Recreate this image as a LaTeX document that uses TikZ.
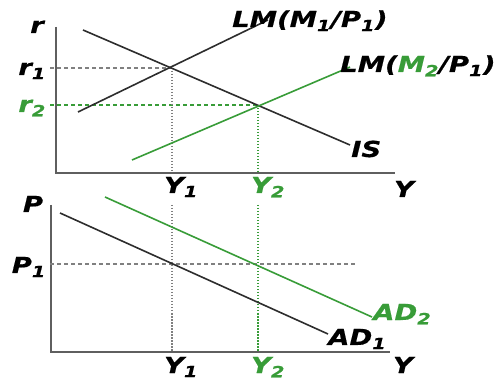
\documentclass[tikz,border=0pt]{standalone}
\usepackage{fontspec}
\newfontfamily\econfont{DejaVu Sans}[FakeStretch=1.25, BoldItalicFeatures={FakeBold=0.6}]
\definecolor{econgreen}{RGB}{56,156,56}
\definecolor{curvegray}{RGB}{45,45,45}
\definecolor{axisgray}{RGB}{95,95,95}

\begin{document}
\begin{tikzpicture}[
x=1pt, y=1pt,
every node/.style={font=\econfont\bfseries\itshape\fontsize{22}{24}\selectfont, inner sep=0pt},
axis/.style={draw=axisgray, line width=1.8pt},
curve/.style={draw=curvegray, line width=1.6pt},
shifted/.style={draw=econgreen, line width=1.6pt},
guide/.style={draw=gray, dash pattern=on 4pt off 3pt, line width=1.1pt},
drop/.style={draw=gray, dash pattern=on 1.5pt off 1.5pt, line width=1.3pt}
]
\useasboundingbox (0,0) rectangle (498,383);

% IS-LM panel
\coordinate (O1) at (56,210);
\coordinate (E1) at (172,315);
\coordinate (E2) at (258,278);
\coordinate (Y1top) at (172,210);
\coordinate (Y2top) at (258,210);
\draw[axis] (56,356) -- (O1) -- (395,210);

\draw[guide] (50,315) -- (E1);
\draw[guide, draw=econgreen] (50,278) -- (E2);
\draw[drop] (E1) -- (Y1top);
\draw[drop, draw=econgreen] (E2) -- (Y2top);

\draw[curve] (83,353) -- (350,238);
\draw[curve] (78,271) -- (268,363);
\draw[shifted] (132,223) -- (350,316);

\node (r) [anchor=base] at (37,350) {r};
\node (r1) [anchor=base east] at (46,308) {r\textsubscript{1}};
\node (r2) [anchor=base east, text=econgreen] at (46,271) {r\textsubscript{2}};
\node (lm1) [anchor=base west] at (232,356) {LM(M\textsubscript{1}/P\textsubscript{1})};
\node (lm2) [anchor=base west] at (340,311) {LM(\textcolor{econgreen}{M\textsubscript{2}}/P\textsubscript{1})};
\node (is) [anchor=base west] at (351,226) {IS};
\node (y1a) [anchor=base] at (181,190) {Y\textsubscript{1}};
\node (y2a) [anchor=base, text=econgreen] at (268,190) {Y\textsubscript{2}};
\node (ya) [anchor=base] at (404,186) {Y};

% AD panel
\coordinate (O2) at (51,31);
\coordinate (F1) at (172,119);
\coordinate (F2) at (258,119);
\draw[axis] (51,178) -- (O2) -- (390,31);

\draw[guide] (50,119) -- (355,119);
\draw[drop] (172,178) -- (172,31);
\draw[drop, draw=econgreen] (258,178) -- (258,31);

\draw[curve] (60,170) -- (328,49);
\draw[shifted] (105,186) -- (372,66);

\node (p) [anchor=base] at (33,171) {P};
\node (p1) [anchor=base east] at (46,110) {P\textsubscript{1}};
\node (ad1) [anchor=base west] at (328,38) {AD\textsubscript{1}};
\node (ad2) [anchor=base west, text=econgreen] at (373,63) {AD\textsubscript{2}};
\node (y1b) [anchor=base] at (181,10) {Y\textsubscript{1}};
\node (y2b) [anchor=base, text=econgreen] at (268,10) {Y\textsubscript{2}};
\node (yb) [anchor=base] at (403,10) {Y};

\end{tikzpicture}
\end{document}
